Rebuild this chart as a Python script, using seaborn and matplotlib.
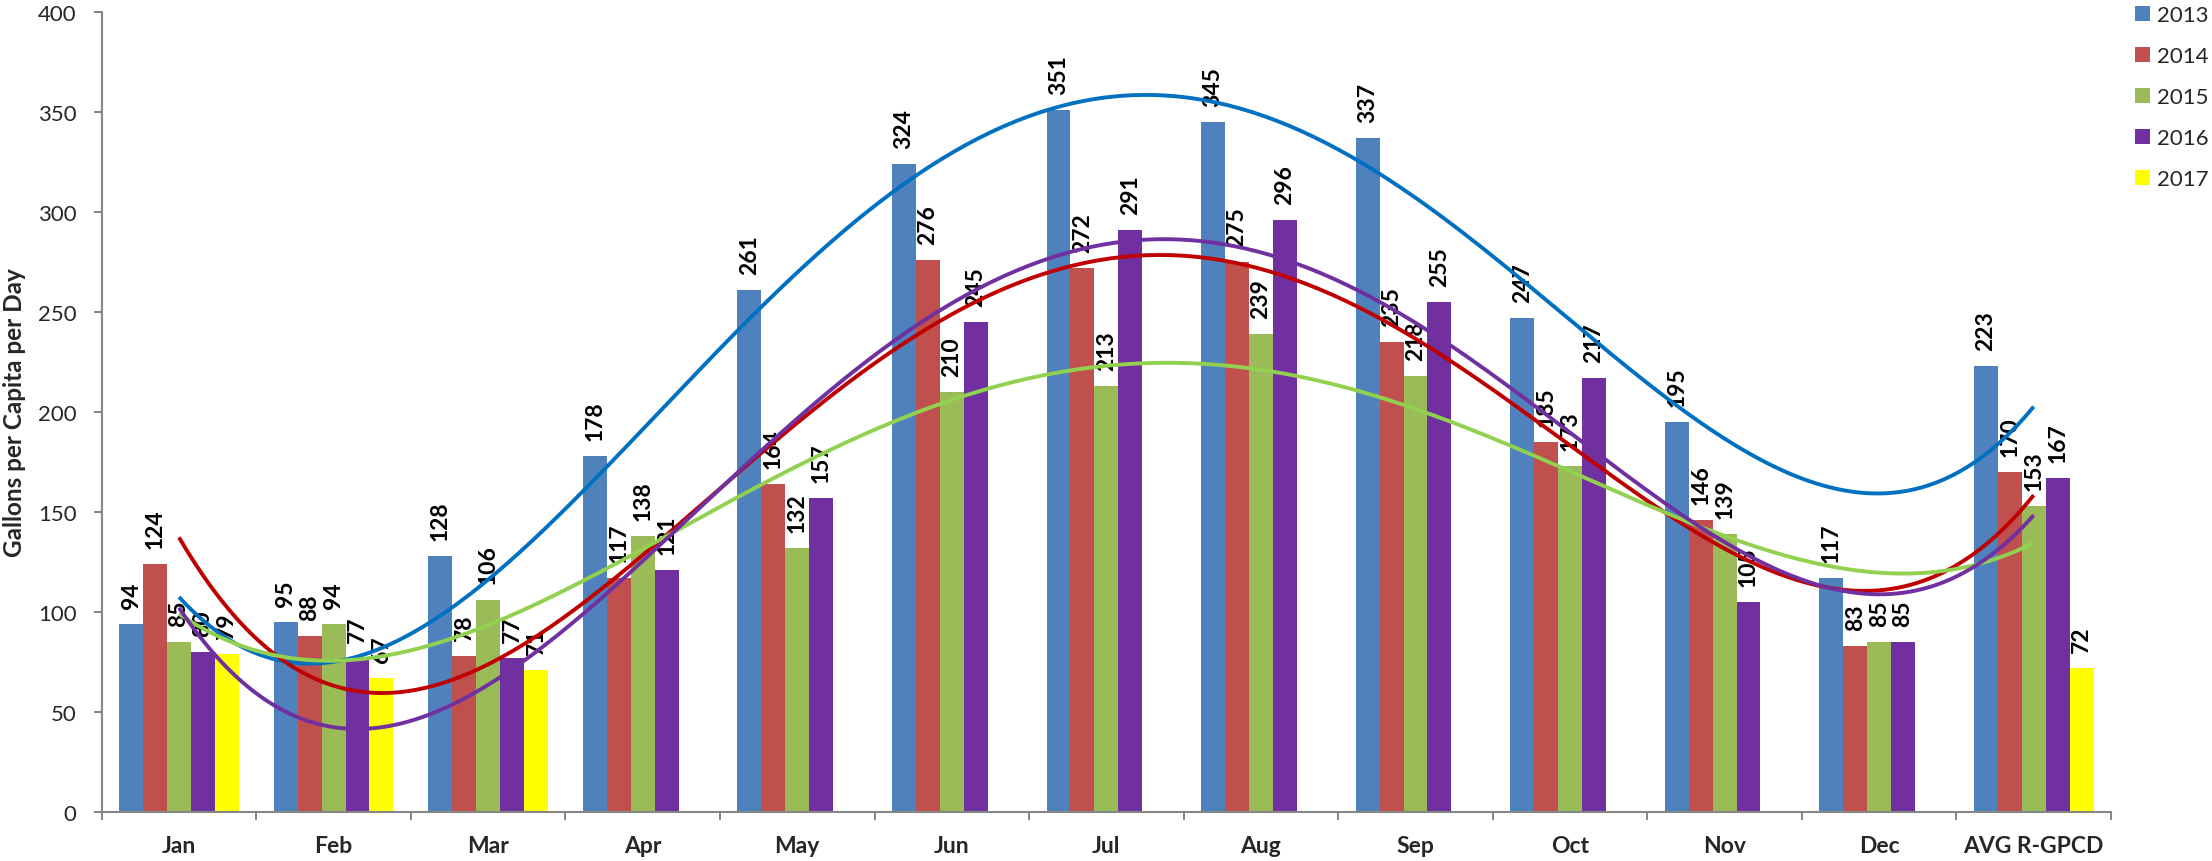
import numpy as np
import pandas as pd
import matplotlib
matplotlib.use("Agg")
import matplotlib.pyplot as plt
import seaborn as sns
from matplotlib.patches import Patch
from matplotlib.ticker import FixedLocator

# ---------------- data ----------------
months = ["Jan", "Feb", "Mar", "Apr", "May", "Jun", "Jul", "Aug", "Sep",
          "Oct", "Nov", "Dec", "AVG R-GPCD"]
years = ["2013", "2014", "2015", "2016", "2017"]
nan = np.nan
gpcd_2013 = [94, 95, 128, 178, 261, 324, 351, 345, 337, 247, 195, 117, 223]
gpcd_2014 = [124, 88, 78, 117, 164, 276, 272, 275, 235, 185, 146, 83, 170]
gpcd_2015 = [85, 94, 106, 138, 132, 210, 213, 239, 218, 173, 139, 85, 153]
gpcd_2016 = [80, 77, 77, 121, 157, 245, 291, 296, 255, 217, 105, 85, 167]
gpcd_2017 = [79, 67, 71, nan, nan, nan, nan, nan, nan, nan, nan, nan, 72]
y_ticks = [0, 50, 100, 150, 200, 250, 300, 350, 400]

series = {"2013": gpcd_2013, "2014": gpcd_2014, "2015": gpcd_2015,
          "2016": gpcd_2016, "2017": gpcd_2017}
trend_years = ["2013", "2014", "2015", "2016"]

bar_colors = {"2013": "#4F81BD", "2014": "#C0504D", "2015": "#9BBB59",
              "2016": "#7030A0", "2017": "#FFFF00"}
trend_colors = {"2013": "#0070C0", "2014": "#C00000", "2015": "#92D050",
                "2016": "#7030A0"}

rows = []
for yr in years:
    for m, v in zip(months, series[yr]):
        rows.append({"month": m, "year": yr, "gpcd": v})
df = pd.DataFrame(rows)

# ---------------- style ----------------
sns.set_style("ticks")
plt.rcParams["font.family"] = ["Lato", "DejaVu Sans"]
axis_gray = "#868686"

W, H = 2212, 862
fig = plt.figure(figsize=(W / 100, H / 100), dpi=100)
left, right, top, bottom = 101.7, 2111, 12.7, 812.7
ax = fig.add_axes([left / W, 1 - bottom / H, (right - left) / W, (bottom - top) / H])

sns.barplot(data=df, x="month", y="gpcd", hue="year", order=months,
            hue_order=years, palette=bar_colors, width=0.774, saturation=1,
            errorbar=None, legend=False, ax=ax, edgecolor="none", zorder=2)

for cont in ax.containers:
    ax.bar_label(cont, fmt="%.0f", rotation=90, padding=11, fontsize=16.5,
                 fontweight="bold", color="black", zorder=3)

# polynomial (order 4) trendlines, like the spreadsheet's
xpos = np.arange(len(months))
xs = np.linspace(0, len(months) - 1, 300)
for yr in trend_years:
    coef = np.polyfit(xpos, np.array(series[yr], dtype=float), 4)
    ax.plot(xs, np.polyval(coef, xs), color=trend_colors[yr], lw=2.8,
            zorder=4, solid_capstyle="butt")

# ---------------- axes ----------------
ax.set_xlim(-0.5, len(months) - 0.5)
ax.set_ylim(0, 400)
ax.yaxis.set_major_locator(FixedLocator(y_ticks))
ax.set_xticks(xpos)
ax.set_xticklabels(months, fontweight="bold", fontsize=16.5)
ax.xaxis.set_minor_locator(FixedLocator(np.arange(-0.5, len(months), 1.0)))
ax.tick_params(axis="x", which="major", length=0, pad=17, labelsize=16.5)
ax.tick_params(axis="x", which="minor", length=6, width=1.4, color=axis_gray,
               direction="out")
ax.tick_params(axis="y", which="major", length=6, width=1.4, color=axis_gray,
               direction="out", pad=12, labelsize=16)
ax.set_xlabel("")
ax.set_ylabel("Gallons per Capita per Day", fontsize=17.5, fontweight="bold")
ax.yaxis.set_label_coords((26 - left) / (right - left), 0.5)

for s in ["top", "right"]:
    ax.spines[s].set_visible(False)
for s in ["left", "bottom"]:
    ax.spines[s].set_color(axis_gray)
    ax.spines[s].set_linewidth(1.5)
ax.grid(False)

handles = [Patch(facecolor=bar_colors[y], edgecolor="none", label=y) for y in years]
fig.legend(handles=handles, loc="upper left",
           bbox_to_anchor=(2135 / W, 1 - 6 / H), frameon=False, fontsize=16,
           handlelength=0.68, handleheight=0.68, handletextpad=0.3,
           labelspacing=0.95, borderpad=0, borderaxespad=0)

fig.savefig("out.png", dpi=100)
